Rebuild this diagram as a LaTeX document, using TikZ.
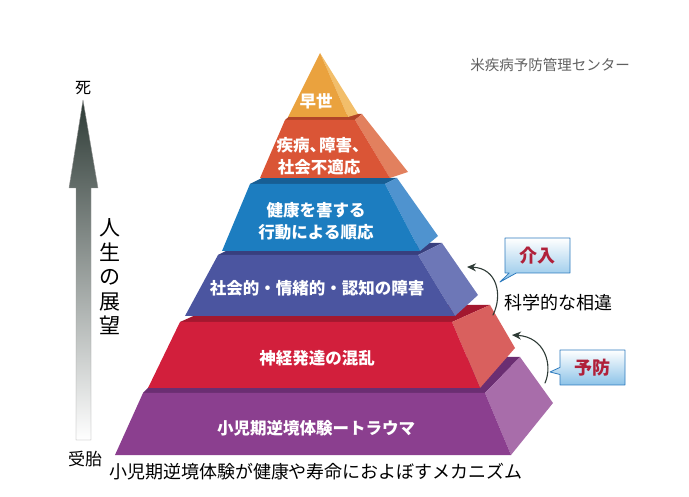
\documentclass[tikz,border=0pt]{standalone}
\usepackage{fontspec}
\setmainfont{Noto Sans CJK JP}
\usetikzlibrary{arrows.meta,shapes.callouts}

\definecolor{kids}{HTML}{8B3F8F}
\definecolor{kidsside}{HTML}{A86DAA}
\definecolor{kidstop}{HTML}{6B2E72}
\definecolor{nerve}{HTML}{D21F3C}
\definecolor{nerveside}{HTML}{D9605E}
\definecolor{nervetop}{HTML}{A3182F}
\definecolor{social}{HTML}{4B55A0}
\definecolor{socialside}{HTML}{6D77B7}
\definecolor{socialtop}{HTML}{383F7E}
\definecolor{habit}{HTML}{1C7DC0}
\definecolor{habitside}{HTML}{4F93CF}
\definecolor{habittop}{HTML}{175E94}
\definecolor{ill}{HTML}{DA5536}
\definecolor{illside}{HTML}{E2805E}
\definecolor{illtop}{HTML}{B04428}
\definecolor{death}{HTML}{EAA23E}
\definecolor{deathside}{HTML}{F2BE6A}
\definecolor{arrowdark}{HTML}{2E3B36}
\definecolor{boxline}{HTML}{2E7BBE}
\definecolor{boxblue}{HTML}{8CC3E8}
\definecolor{boxtext}{HTML}{B0203A}

\begin{document}
\begin{tikzpicture}[x=1pt,y=-1pt,line join=round,line cap=round,
		lbl/.style={text=white,font=\bfseries\fontsize{16.5}{22}\selectfont,align=center,inner sep=0pt},
		box/.style={rectangle callout,draw=boxline,line width=0.8pt,top color=white,bottom color=boxblue,
			minimum width=65pt,minimum height=35pt,text=boxtext,font=\bfseries\fontsize{18}{20}\selectfont},
		curvearrow/.style={line width=1.1pt,draw=arrowdark,-{Stealth[length=9pt,width=8pt]}}]
	\useasboundingbox (0,0) rectangle (689,497);
	
	% layer 1
	\coordinate (A) at (115,455);
	\coordinate (B) at (511,455);
	\coordinate (C) at (485,393);
	\coordinate (D) at (143,393);
	\coordinate (E) at (520,357);
	\coordinate (F) at (553,403);
	\coordinate (G) at (178,357);
	\fill[kidstop] (D)--(C)--(E)--(G)--cycle;
	\fill[kidsside] (B)--(C)--(E)--(F)--cycle;
	\fill[kids] (A)--(B)--(C)--(D)--cycle;
	\node[lbl] (kidsl) at (316,428) {小児期逆境体験ートラウマ};
	
	% layer 2
	\coordinate (A) at (148,388);
	\coordinate (B) at (480,388);
	\coordinate (C) at (452,322);
	\coordinate (D) at (180,322);
	\coordinate (E) at (490,305);
	\coordinate (F) at (515,348);
	\coordinate (G) at (218,305);
	\fill[nervetop] (D)--(C)--(E)--(G)--cycle;
	\fill[nerveside] (B)--(C)--(E)--(F)--cycle;
	\fill[nerve] (A)--(B)--(C)--(D)--cycle;
	\node[lbl] (nervel) at (317,358) {神経発達の混乱};
	
	% layer 3
	\coordinate (A) at (185,316);
	\coordinate (B) at (455,316);
	\coordinate (C) at (418,255);
	\coordinate (D) at (218,255);
	\coordinate (E) at (442,243);
	\coordinate (F) at (478,295);
	\coordinate (G) at (242,243);
	\fill[socialtop] (D)--(C)--(E)--(G)--cycle;
	\fill[socialside] (B)--(C)--(E)--(F)--cycle;
	\fill[social] (A)--(B)--(C)--(D)--cycle;
	\node[lbl] (sociall) at (317,288) {社会的・情緒的・認知の障害};
	
	% layer 4
	\coordinate (A) at (222,251);
	\coordinate (B) at (420,251);
	\coordinate (C) at (385,184);
	\coordinate (D) at (250,184);
	\coordinate (E) at (397,178);
	\coordinate (F) at (438,236);
	\coordinate (G) at (262,178);
	\fill[habittop] (D)--(C)--(E)--(G)--cycle;
	\fill[habitside] (B)--(C)--(E)--(F)--cycle;
	\fill[habit] (A)--(B)--(C)--(D)--cycle;
	\node[lbl] (habitl) at (316,221) {健康を害する\\行動による順応};
	
	% layer 5
	\coordinate (A) at (260,178);
	\coordinate (B) at (390,178);
	\coordinate (C) at (355,120);
	\coordinate (D) at (285,120);
	\coordinate (E) at (362,114);
	\coordinate (F) at (408,172);
	\coordinate (G) at (292,114);
	\fill[illtop] (D)--(C)--(E)--(G)--cycle;
	\fill[illside] (B)--(C)--(E)--(F)--cycle;
	\fill[ill] (A)--(B)--(C)--(D)--cycle;
	\node[lbl] (illl) at (319,156) {疾病、\kern-7pt障害、\kern-7pt\\社会不適応};
	
	% top
	\coordinate (A) at (288,117);
	\coordinate (B) at (348,117);
	\coordinate (P) at (320,53);
	\coordinate (F) at (358,114);
	\fill[deathside] (B)--(P)--(F)--cycle;
	\fill[death] (A)--(B)--(P)--cycle;
	\node[lbl] (deathl) at (316,101) {早世};
	
	% life arrow
	\shade[top color=arrowdark,bottom color=white,draw=gray!80,line width=0.4pt]
		(76,440)--(76,188)--(69,188)--(83,100)--(98,188)--(91,188)--(91,440)--cycle;
	\node[font=\fontsize{16}{18}\selectfont] (die) at (83,88) {死};
	\node[font=\fontsize{17}{18}\selectfont] (birth) at (85,459) {受胎};
	\node[font=\fontsize{21}{24.5}\selectfont,align=center] (view) at (110,277) {人\\生\\の\\展\\望};
	
	% right side
	\node[text=gray!75!black,font=\fontsize{14.5}{16}\selectfont] (cdc) at (550,65) {米疾病予防管理センター};
	\node[font=\fontsize{18}{20}\selectfont] (diff) at (558,303) {科学的な相違};
	\coordinate (p1) at (500,282);
	\coordinate (p2) at (550,372);
	\node[box,callout absolute pointer={(p1)}] (intervene) at (537.5,255.5) {介入};
	\node[box,callout absolute pointer={(p2)}] (prevent) at (592.5,367.5) {予防};
	
	\coordinate (s1) at (493,315);
	\coordinate (t1) at (467,267);
	\coordinate (s2) at (545,383);
	\coordinate (t2) at (512,335);
	\draw[curvearrow] (s1) .. controls (503,295) and (497,268) .. (t1);
	\draw[curvearrow] (s2) .. controls (553,365) and (545,337) .. (t2);
	
	\node[font=\fontsize{18}{20}\selectfont] (caption) at (316,472) {小児期逆境体験が健康や寿命におよぼすメカニズム};
\end{tikzpicture}
\end{document}
